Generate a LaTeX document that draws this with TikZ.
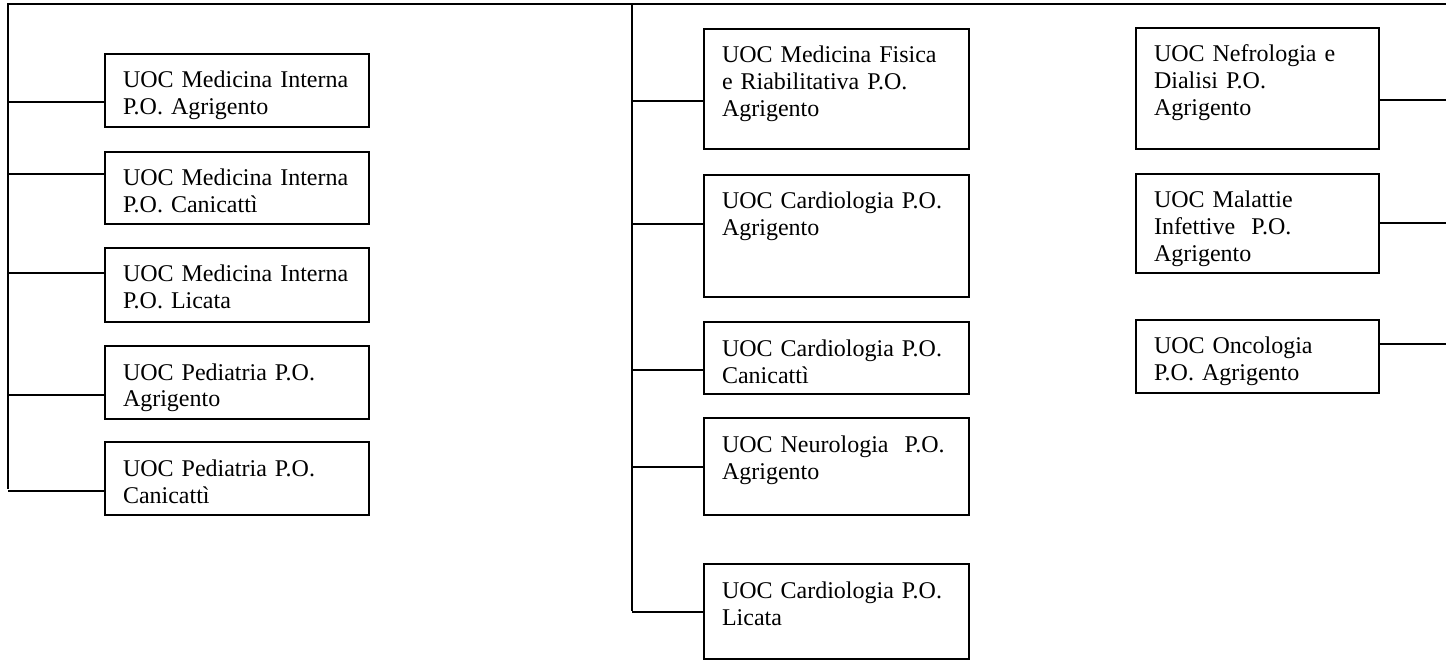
\documentclass[tikz,border=0pt]{standalone}
\usepackage{fontspec}
\setmainfont{Liberation Serif}
\usetikzlibrary{calc}

\tikzset{
  unit/.style={draw, line width=2pt, anchor=north west, inner xsep=18pt, inner ysep=0pt,
    align=left, text height=34pt, font=\fontsize{24}{27}\selectfont},
  link/.style={line width=2pt}
}

\begin{document}
\begin{tikzpicture}[x=1pt, y=-1pt]
\useasboundingbox (0,0) rectangle (1446,660);

% Trunk ends
\coordinate (lt) at (8,4);
\coordinate (lb) at (8,489);
\coordinate (mt) at (632,4);
\coordinate (mb) at (632,611);
\coordinate (re) at (1446,4);

% Left column
\node[unit, text width=228pt, text depth=39pt] (l1) at (104,53) {UOC Medicina Interna\\P.O. Agrigento};
\node[unit, text width=228pt, text depth=38pt] (l2) at (104,151) {UOC Medicina Interna\\P.O. Canicattì};
\node[unit, text width=228pt, text depth=40pt] (l3) at (104,247) {UOC Medicina Interna\\P.O. Licata};
\node[unit, text width=228pt, text depth=39pt] (l4) at (104,345) {UOC Pediatria P.O.\\Agrigento};
\node[unit, text width=228pt, text depth=39pt] (l5) at (104,441) {UOC Pediatria P.O.\\Canicattì};

% Middle column
\node[unit, text width=229pt, text depth=86pt] (m1) at (703,28) {UOC Medicina Fisica\\e Riabilitativa P.O.\\Agrigento};
\node[unit, text width=229pt, text depth=88pt] (m2) at (703,174) {UOC Cardiologia P.O.\\Agrigento};
\node[unit, text width=229pt, text depth=38pt] (m3) at (703,321) {UOC Cardiologia P.O.\\Canicattì};
\node[unit, text width=229pt, text depth=63pt] (m4) at (703,417) {UOC Neurologia~ P.O.\\Agrigento};
\node[unit, text width=229pt, text depth=61pt] (m5) at (703,563) {UOC Cardiologia P.O.\\Licata};

% Right column
\node[unit, text width=207pt, text depth=87pt] (r1) at (1135,27) {UOC Nefrologia e\\Dialisi P.O.\\Agrigento};
\node[unit, text width=207pt, text depth=65pt] (r2) at (1135,173) {UOC Malattie\\Infettive~ P.O.\\Agrigento};
\node[unit, text width=207pt, text depth=39pt] (r3) at (1135,319) {UOC Oncologia\\P.O. Agrigento};

% Draw trunks
\draw[link] (re) -- (lt) -- (lb);
\draw[link] (mt) -- (mb);

% Draw branches
\foreach \n/\dy in {l1/12, l2/-14, l3/-12, l4/12, l5/12}
  \draw[link] (\n.west) ++(0,\dy) coordinate (c) -- (c -| lt);
\foreach \n/\dy in {m1/12, m2/-12, m3/12, m4/0, m5/0}
  \draw[link] (\n.west) ++(0,\dy) coordinate (c) -- (c -| mt);
\foreach \n/\dy in {r1/12, r2/0, r3/-12}
  \draw[link] (\n.east) ++(0,\dy) coordinate (c) -- (c -| re);

\end{tikzpicture}
\end{document}
